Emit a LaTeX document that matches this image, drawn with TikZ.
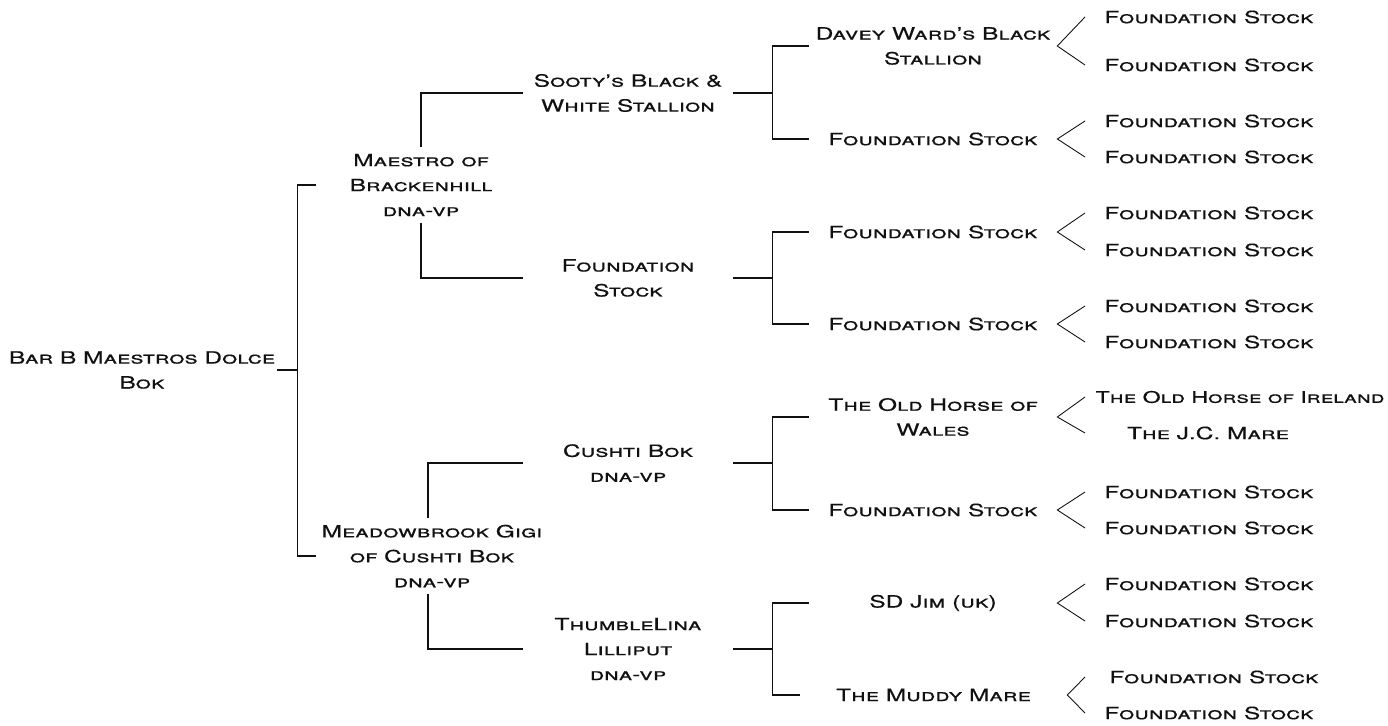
\documentclass[tikz,border=0pt]{standalone}
\usepackage{fontspec}
\setmainfont{TeX Gyre Heros}[FakeStretch=1.45, FakeBold=0.4]
\usepackage{tikz}
\usetikzlibrary{calc}
\definecolor{ink}{HTML}{111111}
\tikzset{
  link/.style={draw=ink, line width=0.85pt},
  fork/.style={draw=ink, line width=0.5pt},
  horse/.style={font=\fontsize{9.6}{14.2}\selectfont\scshape, text=ink, align=center, inner sep=0pt},
  sire/.style={horse, outer xsep=0pt, outer ysep=4pt},
  gen2/.style={horse, minimum width=4.2cm},
  gen3/.style={horse, minimum width=4.96cm},
  leaf/.style={horse}
}

\begin{document}
\begin{tikzpicture}[x=0.02cm, y=-0.02cm]
  \useasboundingbox (0,0) rectangle (1388,726);
  \coordinate (fx) at (1085,0);

  % horse and parents
  \node[horse, minimum width=5.4cm] (root) at (142,370) {Bar B Maestros Dolce\\Bok};
  \node[sire, minimum width=4.2cm] (mae) at (421,185) {Maestro of\\Brackenhill\\dna-vp};
  \node[sire, minimum width=4.64cm] (mea) at (432,556) {Meadowbrook Gigi\\of Cushti Bok\\dna-vp};

  \draw[link] (root.east) -- ++(20,0) coordinate (root-j) |- (mae.west);
  \draw[link] (root-j) |- (mea.west);

  % grandparents
  \node[gen2] (soo) at (628,93) {Sooty's Black \&\\White Stallion};
  \node[gen2] (fs1) at (628,278) {Foundation\\Stock};
  \node[gen2] (cus) at (628,463) {Cushti Bok\\dna-vp};
  \node[gen2] (thu) at (628,649) {ThumbleLina\\Lilliput\\dna-vp};

  \draw[link] (mae.north) |- (soo.west);
  \draw[link] (mae.south) |- (fs1.west);
  \draw[link] ([xshift=-2.3pt]mea.north) |- (cus.west);
  \draw[link] ([xshift=-2.3pt]mea.south) |- (thu.west);

  % great-grandparents
  \node[gen3] (dav) at (933,46) {Davey Ward's Black\\Stallion};
  \node[gen3] (fsa) at (933,139) {Foundation Stock};
  \node[gen3] (fsb) at (933,232) {Foundation Stock};
  \node[gen3] (fsc) at (933,324) {Foundation Stock};
  \node[gen3] (old) at (933,417) {The Old Horse of\\Wales};
  \node[gen3] (fsd) at (933,510) {Foundation Stock};
  \node[gen3] (jim) at (933,603) {SD Jim (uk)};
  \node[gen3, minimum width=5.34cm] (mud) at (933.5,695) {The Muddy Mare};

  \draw[link] (soo.east) -- ++(39,0) coordinate (soo-j) |- (dav.west);
  \draw[link] (soo-j) |- (fsa.west);
  \draw[link] (fs1.east) -- ++(39,0) coordinate (fs1-j) |- (fsb.west);
  \draw[link] (fs1-j) |- (fsc.west);
  \draw[link] (cus.east) -- ++(39,0) coordinate (cus-j) |- (old.west);
  \draw[link] (cus-j) |- (fsd.west);
  \draw[link] (thu.east) -- ++(39,0) coordinate (thu-j) |- (jim.west);
  \draw[link] (thu-j) |- (mud.west);

  % great-great-grandparents
  \foreach \p/\ya/\yb in {dav/17/65, fsa/121/157, fsb/213/250, fsc/306/342, fsd/492/528, jim/584/621}{
    \node[leaf] (\p-a) at (1209,\ya) {Foundation Stock};
    \node[leaf] (\p-b) at (1209,\yb) {Foundation Stock};
    \draw[fork] (fx |- \p-a) -- (\p.east) -- (fx |- \p-b);
  }
  \node[leaf, font=\fontsize{9.1}{14.2}\selectfont\scshape] (old-a) at (1240,397) {The Old Horse of Ireland};
  \node[leaf] (old-b) at (1208,433) {The J.C. Mare};
  \draw[fork] (fx |- old-a) -- (old.east) -- (fx |- old-b);
  \node[leaf] (mud-a) at (1214,677) {Foundation Stock};
  \node[leaf] (mud-b) at (1209,713) {Foundation Stock};
  \draw[fork] (fx |- mud-a) -- (mud.east) -- (fx |- mud-b);
\end{tikzpicture}
\end{document}
